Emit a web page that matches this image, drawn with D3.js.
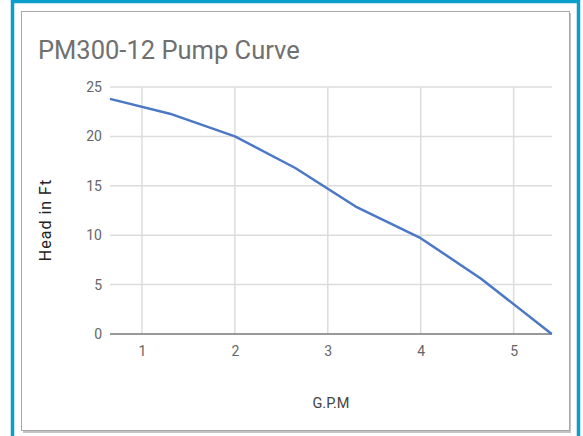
<!DOCTYPE html>
<html>
<head>
<meta charset="utf-8">
<script src="https://cdn.jsdelivr.net/npm/d3@7"></script>
<style>
  body { margin: 0; background: #fff; }
  text { font-family: Roboto, "Noto Sans", sans-serif; }
</style>
</head>
<body>
<div class="canvas"></div>
<script>
// pump curve readings (G.P.M vs head in feet)
const gpm = [0.656, 1.3, 2.0, 2.65, 3.3, 4.0, 4.65, 5.41];
const head = [23.8, 22.3, 20.0, 16.8, 12.9, 9.7, 5.6, 0];
const xTicks = [1, 2, 3, 4, 5];
const yTicks = [0, 5, 10, 15, 20, 25];

const dims = { width: 583, height: 436 };
const plot = { left: 110, right: 552, top: 87, bottom: 334 };

const svg = d3
  .select(".canvas")
  .append("svg")
  .attr("width", dims.width)
  .attr("height", dims.height);

// outer teal frame
svg
  .append("rect")
  .attr("x", 12.5)
  .attr("y", 1.5)
  .attr("width", 566)
  .attr("height", 450)
  .attr("fill", "none")
  .attr("stroke", "#0a9fcb")
  .attr("stroke-width", 3.5);

// card with a small shadow
svg
  .append("rect")
  .attr("x", 23)
  .attr("y", 13)
  .attr("width", 548)
  .attr("height", 420)
  .attr("fill", "#c4c4c4");
svg
  .append("rect")
  .attr("x", 21.5)
  .attr("y", 11.5)
  .attr("width", 548)
  .attr("height", 419)
  .attr("fill", "#fff")
  .attr("stroke", "#a9a9a9")
  .attr("stroke-width", 1);

svg
  .append("text")
  .attr("x", 38)
  .attr("y", 59)
  .attr("font-size", 25.5)
  .attr("fill", "#707070")
  .text("PM300-12 Pump Curve");

const x = d3.scaleLinear().domain([0.656, 5.413]).range([plot.left, plot.right]);
const y = d3.scaleLinear().domain([0, 25]).range([plot.bottom, plot.top]);

const graph = svg.append("g");

// grid lines
graph
  .selectAll("line.hgrid")
  .data(yTicks.filter((d) => d > 0))
  .enter()
  .append("line")
  .attr("class", "hgrid")
  .attr("x1", plot.left)
  .attr("x2", plot.right)
  .attr("y1", (d) => y(d))
  .attr("y2", (d) => y(d))
  .attr("stroke", "#dcdcdc")
  .attr("stroke-width", 1.5);

graph
  .selectAll("line.vgrid")
  .data(xTicks)
  .enter()
  .append("line")
  .attr("class", "vgrid")
  .attr("x1", (d) => x(d))
  .attr("x2", (d) => x(d))
  .attr("y1", plot.top)
  .attr("y2", plot.bottom)
  .attr("stroke", "#dcdcdc")
  .attr("stroke-width", 1.5);

// baseline
graph
  .append("line")
  .attr("x1", plot.left)
  .attr("x2", plot.right)
  .attr("y1", y(0))
  .attr("y2", y(0))
  .attr("stroke", "#777")
  .attr("stroke-width", 1.5);

// axes (labels only, no domain/tick marks)
const xAxis = d3
  .axisBottom(x)
  .tickValues(xTicks)
  .tickFormat(d3.format("d"))
  .tickSize(0)
  .tickPadding(12);
const yAxis = d3.axisLeft(y).tickValues(yTicks).tickSize(0).tickPadding(8);

const xg = graph
  .append("g")
  .attr("transform", `translate(0,${plot.bottom})`)
  .call(xAxis);
const yg = graph
  .append("g")
  .attr("transform", `translate(${plot.left},0)`)
  .call(yAxis);

[xg, yg].forEach((g) => {
  g.select(".domain").remove();
  g.selectAll("text")
    .attr("font-family", "Roboto, sans-serif")
    .attr("font-size", 14)
    .attr("fill", "#666");
});

// the curve
const line = d3
  .line()
  .x((d) => x(d[0]))
  .y((d) => y(d[1]));

graph
  .append("path")
  .datum(d3.zip(gpm, head))
  .attr("d", line)
  .attr("fill", "none")
  .attr("stroke", "#4a78c6")
  .attr("stroke-width", 2.5)
  .attr("stroke-linejoin", "round");

// axis titles
svg
  .append("text")
  .attr("x", 331)
  .attr("y", 408)
  .attr("text-anchor", "middle")
  .attr("font-size", 14.5)
  .attr("fill", "#444")
  .text("G.P.M");

svg
  .append("text")
  .attr("transform", "translate(51,220) rotate(-90)")
  .attr("text-anchor", "middle")
  .attr("font-size", 16)
  .attr("letter-spacing", 1)
  .attr("fill", "#222")
  .text("Head in Ft");
</script>
</body>
</html>
